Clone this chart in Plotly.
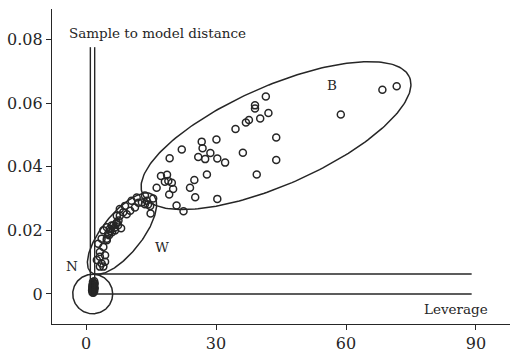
import numpy as np
import plotly.graph_objects as go

# Leverage (x) and sample-to-model distance (y) for each sample, grouped by cluster
n_leverage = [1.5, 1.6, 1.7, 1.5, 1.8, 1.6, 1.7, 1.9, 1.4, 2.0, 1.5, 2.0,
              1.6, 1.8, 1.5, 1.9, 1.7, 1.6, 1.8, 1.5, 1.7, 1.9]
n_distance = [0.0005, 0.0010, 0.0015, 0.0020, 0.0025, 0.0030, 0.0035, 0.0040,
              0.0012, 0.0018, 0.0028, 0.0032, 0.0008, 0.0013, 0.0023, 0.0021,
              0.0026, 0.0038, 0.0034, 0.0017, 0.0004, 0.0009]

w_leverage = [14.0, 12.9, 11.7, 10.5, 11.3, 10.2, 9.0, 9.4, 7.8, 7.1, 6.3, 5.5, 4.8,
              4.0, 6.7, 5.1, 3.6, 4.8, 2.8, 4.0, 3.2, 4.4, 3.2, 2.5, 3.6, 4.0, 3.2,
              12.1, 13.6, 14.8, 7.8, 8.6, 7.1, 7.5, 5.9, 4.8, 4.4, 6.0, 7.4, 5.3, 8.1,
              6.6, 5.6, 7.0]
w_distance = [0.0293, 0.0288, 0.0303, 0.0293, 0.0272, 0.0262, 0.0277, 0.0251, 0.0246,
              0.0225, 0.0215, 0.0205, 0.0210, 0.0200, 0.0200, 0.0189, 0.0174, 0.0174,
              0.0158, 0.0148, 0.0132, 0.0122, 0.0117, 0.0107, 0.0096, 0.0086, 0.0086,
              0.0287, 0.0282, 0.0277, 0.0267, 0.0257, 0.0246, 0.0231, 0.0215, 0.0169,
              0.0101, 0.0194, 0.0216, 0.0185, 0.0207, 0.0208, 0.0198, 0.0221]

b_leverage = [41.5, 39.0, 39.0, 42.1, 40.2, 37.6, 36.9, 34.5, 43.9, 30.1, 26.7, 26.9,
              22.1, 28.7, 25.9, 27.5, 30.3, 32.1, 36.2, 19.3, 43.9, 27.9, 39.4, 18.7,
              17.3, 19.0, 18.2, 25.0, 24.0, 16.3, 20.1, 19.2, 25.2, 30.3, 13.6, 15.5,
              20.9, 22.5, 14.3, 14.9, 58.8, 68.4, 71.7, 19.8]
b_distance = [0.0621, 0.0593, 0.0583, 0.0569, 0.0552, 0.0547, 0.0539, 0.0519, 0.0492,
              0.0486, 0.0479, 0.0458, 0.0454, 0.0443, 0.0431, 0.0424, 0.0426, 0.0413,
              0.0444, 0.0427, 0.0421, 0.0376, 0.0376, 0.0375, 0.0371, 0.0355, 0.0353,
              0.0358, 0.0334, 0.0334, 0.0330, 0.0313, 0.0304, 0.0299, 0.0310, 0.0300,
              0.0278, 0.0260, 0.0281, 0.0253, 0.0564, 0.0642, 0.0653, 0.0350]

x_ticks = [0, 30, 60, 90]
y_ticks = [0, 0.02, 0.04, 0.06, 0.08]
y_tick_labels = ["0", "0.02", "0.04", "0.06", "0.08"]

X_RANGE = [-7.85, 97.85]
Y_RANGE = [-0.00944, 0.0896]

# Limit lines: double vertical leverage axis, double horizontal distance limits
LEV_LINES = [1.0, 2.0]
LEV_TOP = 0.0776
DIST_LINES = [(0.0063, 1.9), (0.0, 2.4)]
DIST_END = 89.0

# Cluster outlines: centre (data), semi-axes (px), rotation (deg)
ELLIPSES = [
    (43.85, 0.0498, 146, 50, 24.0),
    (8.31, 0.01897, 50, 20, 51.9),
    (1.55, 0.0, 20, 20, 0.0),
]

W, H = 510, 353
M = dict(l=52, r=0, t=9, b=25)
sx = (W - M["l"] - M["r"]) / (X_RANGE[1] - X_RANGE[0])
sy = (H - M["t"] - M["b"]) / (Y_RANGE[1] - Y_RANGE[0])

INK = "#262626"
SERIF = "DejaVu Serif"

fig = go.Figure()

marker = dict(symbol="circle-open", size=7, color=INK, line=dict(width=1.5, color=INK))
for xs, ys in [(n_leverage, n_distance), (w_leverage, w_distance), (b_leverage, b_distance)]:
    fig.add_trace(go.Scatter(x=xs, y=ys, mode="markers", marker=marker,
                             showlegend=False, hoverinfo="skip"))

t = np.linspace(0, 2 * np.pi, 240)
for cx, cy, a, b, ang in ELLIPSES:
    th = np.radians(ang)
    dx = a * np.cos(t) * np.cos(th) - b * np.sin(t) * np.sin(th)
    dy = a * np.cos(t) * np.sin(th) + b * np.sin(t) * np.cos(th)
    fig.add_trace(go.Scatter(x=cx + dx / sx, y=cy + dy / sy, mode="lines",
                             line=dict(color=INK, width=1.5),
                             showlegend=False, hoverinfo="skip"))

for xv in LEV_LINES:
    fig.add_shape(type="line", xref="x", yref="y", x0=xv, x1=xv, y0=0, y1=LEV_TOP,
                  line=dict(color=INK, width=1.4))
for yv, xs in DIST_LINES:
    fig.add_shape(type="line", xref="x", yref="y", x0=xs, x1=DIST_END, y0=yv, y1=yv,
                  line=dict(color=INK, width=1.5))

labels = [
    ("Sample to model distance", 16.4, 0.0821),
    ("Leverage", 85.4, -0.00478),
    ("N", -3.2, 0.0089),
    ("W", 17.5, 0.0148),
    ("B", 56.8, 0.0657),
]
for txt, x, y in labels:
    fig.add_annotation(text=txt, x=x, y=y, xref="x", yref="y", showarrow=False,
                       font=dict(family=SERIF, size=13.5, color=INK))

axis_common = dict(showline=True, linecolor=INK, linewidth=1.3, ticks="outside",
                   ticklen=5, tickwidth=1.2, tickcolor=INK, showgrid=False,
                   zeroline=False, tickfont=dict(family=SERIF, size=16, color=INK))
fig.update_xaxes(range=X_RANGE, tickvals=x_ticks, **axis_common)
fig.update_yaxes(range=Y_RANGE, tickvals=y_ticks, ticktext=y_tick_labels, **axis_common)

fig.update_layout(width=W, height=H, margin=M, plot_bgcolor="white",
                  paper_bgcolor="white")

fig.write_html("out.html")
